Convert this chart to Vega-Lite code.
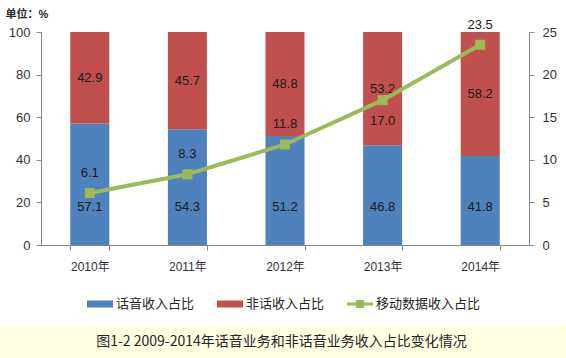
{
  "$schema": "https://vega.github.io/schema/vega-lite/v6.json",
  "padding": {"top": 8, "left": -18, "right": 0, "bottom": 0},
  "spacing": 52,
  "background": "white",
  "datasets": {
    "share": [
      {"year": "2010年", "series": "话音收入占比", "value": 57.1},
      {"year": "2010年", "series": "非话收入占比", "value": 42.9},
      {"year": "2011年", "series": "话音收入占比", "value": 54.3},
      {"year": "2011年", "series": "非话收入占比", "value": 45.7},
      {"year": "2012年", "series": "话音收入占比", "value": 51.2},
      {"year": "2012年", "series": "非话收入占比", "value": 48.8},
      {"year": "2013年", "series": "话音收入占比", "value": 46.8},
      {"year": "2013年", "series": "非话收入占比", "value": 53.2},
      {"year": "2014年", "series": "话音收入占比", "value": 41.8},
      {"year": "2014年", "series": "非话收入占比", "value": 58.2}
    ],
    "mobile": [
      {"year": "2010年", "series": "移动数据收入占比", "value": 6.1},
      {"year": "2011年", "series": "移动数据收入占比", "value": 8.3},
      {"year": "2012年", "series": "移动数据收入占比", "value": 11.8},
      {"year": "2013年", "series": "移动数据收入占比", "value": 17.0},
      {"year": "2014年", "series": "移动数据收入占比", "value": 23.5}
    ]
  },
  "config": {
    "font": "Liberation Sans, Noto Sans CJK SC",
    "view": {"stroke": null},
    "axis": {"grid": false, "domainColor": "#868686", "tickColor": "#868686", "labelColor": "#333333", "labelFontSize": 12, "labelFont": "Liberation Sans, Noto Sans CJK SC"}
  },
  "vconcat": [
    {
      "width": 488,
      "height": 213,
      "layer": [
        {
          "data": {"name": "share"},
          "layer": [
            {
              "mark": {"type": "bar"},
              "encoding": {
                "x": {"field": "year", "type": "nominal", "sort": null, "title": null,
                  "scale": {"paddingInner": 0.6, "paddingOuter": 0.3},
                  "axis": {"labelAngle": 0, "tickBand": "extent", "tickSize": 5, "labelPadding": 11, "labelFontSize": 12}},
                "y": {"field": "value", "type": "quantitative", "stack": "zero",
                  "scale": {"domain": [0, 100], "nice": false},
                  "axis": {"values": [0, 10, 20, 30, 40, 50, 60, 70, 80, 90, 100], "tickSize": 5, "labelPadding": 6, "labelFontSize": 13,
                    "title": "单位：%", "titleAngle": 0, "titleX": -36, "titleY": -18, "titleAlign": "left", "titleBaseline": "middle",
                    "titleFontSize": 11, "titleFontWeight": "bold", "titleColor": "#262626", "titleFont": "Liberation Sans, Noto Sans CJK SC"}},
                "order": {"field": "series", "sort": "ascending"},
                "color": {"field": "series", "type": "nominal",
                  "scale": {"domain": ["话音收入占比", "非话收入占比", "移动数据收入占比"], "range": ["#4F81BD", "#C0504D", "#9BBB59"]},
                  "legend": {"orient": "none", "legendX": 46, "legendY": 259, "direction": "horizontal", "title": null,
                    "symbolSize": 676, "symbolStrokeWidth": 0, "labelFontSize": 13, "labelFont": "Noto Sans CJK SC", "labelColor": "#262626",
                    "labelOffset": 3, "columnPadding": 22,
                    "encode": {"symbols": {"update": {
                      "shape": {"signal": "datum.value === '移动数据收入占比' ? 'M-1,-0.12H1V0.12H-1Z M-0.3,-0.3H0.3V0.3H-0.3Z' : 'M-1,-0.27H1V0.27H-1Z'"},
                      "fill": {"scale": "color", "field": "value"},
                      "opacity": {"value": 1},
                      "strokeWidth": {"value": 0}
                    }}}}}
              }
            },
            {
              "mark": {"type": "text", "fontSize": 13, "color": "#1a1a1a"},
              "encoding": {
                "x": {"field": "year", "type": "nominal", "sort": null},
                "y": {"field": "value", "type": "quantitative", "stack": "zero", "bandPosition": 0.5},
                "detail": {"field": "series"},
                "order": {"field": "series", "sort": "ascending"},
                "text": {"condition": {"test": "datum.series === '非话收入占比'", "field": "value", "type": "quantitative", "format": ".1f"}, "value": ""}
              }
            },
            {
              "transform": [{"filter": "datum.series === '话音收入占比'"}],
              "mark": {"type": "text", "fontSize": 13, "color": "#1a1a1a"},
              "encoding": {
                "x": {"field": "year", "type": "nominal", "sort": null},
                "y": {"datum": 18, "type": "quantitative"},
                "text": {"field": "value", "type": "quantitative", "format": ".1f"}
              }
            }
          ]
        },
        {
          "data": {"name": "mobile"},
          "layer": [
            {
              "mark": {"type": "line", "strokeWidth": 4},
              "encoding": {
                "x": {"field": "year", "type": "nominal", "sort": null},
                "y": {"field": "value", "type": "quantitative",
                  "scale": {"domain": [0, 25], "nice": false},
                  "axis": {"orient": "right", "values": [0, 5, 10, 15, 20, 25], "tickSize": 5, "labelPadding": 8, "labelFontSize": 13, "title": null}},
                "color": {"field": "series", "type": "nominal"}
              }
            },
            {
              "mark": {"type": "square", "size": 100, "opacity": 1, "filled": true},
              "encoding": {
                "x": {"field": "year", "type": "nominal", "sort": null},
                "y": {"field": "value", "type": "quantitative"},
                "color": {"field": "series", "type": "nominal"}
              }
            },
            {
              "transform": [{"filter": "datum.year !== '2013年'"}],
              "mark": {"type": "text", "fontSize": 13, "color": "#1a1a1a", "dy": -20},
              "encoding": {
                "x": {"field": "year", "type": "nominal", "sort": null},
                "y": {"field": "value", "type": "quantitative"},
                "text": {"field": "value", "type": "quantitative", "format": ".1f"}
              }
            },
            {
              "transform": [{"filter": "datum.year === '2013年'"}],
              "mark": {"type": "text", "fontSize": 13, "color": "#1a1a1a", "dy": 21},
              "encoding": {
                "x": {"field": "year", "type": "nominal", "sort": null},
                "y": {"field": "value", "type": "quantitative"},
                "text": {"field": "value", "type": "quantitative", "format": ".1f"}
              }
            }
          ]
        }
      ],
      "resolve": {"scale": {"y": "independent"}}
    },
    {
      "width": 525,
      "height": 36,
      "view": {"fill": "#FFFFE1", "stroke": null},
      "data": {"values": [{"caption": "图1-2 2009-2014年话音业务和非话音业务收入占比变化情况"}]},
      "mark": {"type": "text", "fontSize": 14, "font": "Noto Sans CJK SC", "color": "#262626", "align": "center", "baseline": "middle", "dx": -22},
      "encoding": {
        "y": {"datum": 0.5, "type": "quantitative", "scale": {"domain": [0, 1], "nice": false},
          "axis": {"values": [0.5], "title": null, "labels": false, "domain": false, "tickSize": 41, "tickWidth": 36, "tickColor": "#FFFFE1", "tickCap": "butt"}},
        "text": {"field": "caption", "type": "nominal"}
      }
    }
  ]
}
